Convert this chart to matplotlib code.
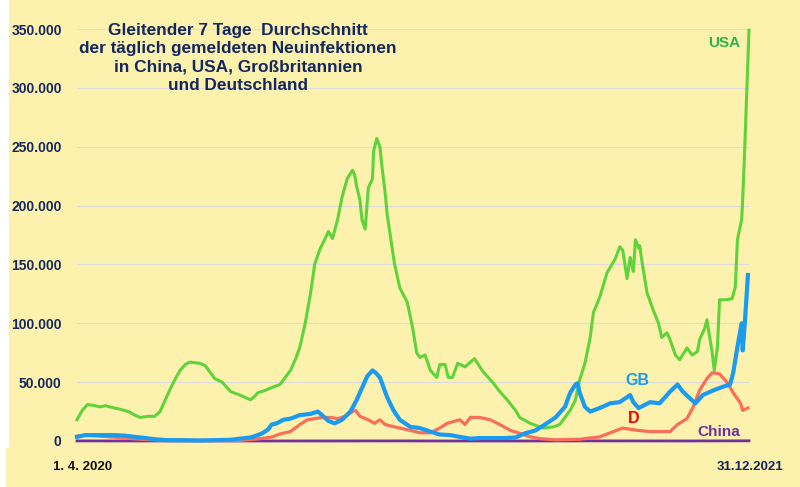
import matplotlib.pyplot as plt
from matplotlib.patches import Rectangle

# days since 1.4.2020, values in thousands (7-day average of daily new cases)
usa_days = [0, 5, 10, 17, 22, 27, 31, 41, 49, 55, 60, 68, 74, 79, 84, 88, 93, 98, 103, 107,
            117, 122, 126, 131, 138, 146, 155, 160, 165, 169, 172, 179, 184, 193, 203, 208,
            212, 217, 222, 226, 231, 236, 239, 243, 248, 252, 257, 262, 264, 266, 269, 271,
            274, 277, 281, 282, 285, 288, 290, 293, 295, 302, 307, 314, 319, 323, 326, 331,
            336, 342, 345, 350, 353, 357, 362, 369, 378, 386, 396, 402, 409, 417, 421, 431,
            443, 453, 459, 464, 469, 474, 478, 483, 488, 491, 497, 504, 512, 516, 519, 523,
            526, 529, 531, 534, 535, 538, 542, 548, 553, 556, 561, 564, 569, 573, 580, 585,
            590, 592, 597, 599, 601, 604, 606, 609, 611, 618, 623, 626, 628, 632, 633, 635,
            637, 639]
usa_vals = [18, 26, 31, 30, 29, 30, 29, 27, 25, 22, 20, 21, 21, 25, 35, 43, 52, 60, 65, 67,
            66, 64, 59, 53, 50, 42, 39, 37, 35, 38, 41, 43, 45, 48, 60, 70,
            80, 100, 125, 150, 163, 172, 178, 172, 189, 207, 223, 230, 226, 216, 205, 188,
            180, 215, 223, 246, 257, 250, 233, 211, 192, 150, 130, 118, 97, 75, 71, 73,
            60, 54, 65, 65, 54, 54, 66, 63, 70, 59, 49, 42, 35, 26, 20, 15,
            11, 12, 14, 20, 26, 35, 52, 66, 88, 109, 122, 143, 155, 165, 162, 138,
            156, 144, 171, 164, 166, 148, 126, 111, 100, 88, 92, 86, 73, 69, 79, 73,
            76, 86, 96, 103, 92, 75, 60, 80, 120, 120, 121, 131, 171, 188, 205, 250,
            300, 349]

gb_days = [0, 8, 22, 36, 46, 55, 65, 74, 84, 117, 146, 155, 165, 172, 177, 182, 185, 190,
           196, 203, 212, 222, 229, 233, 239, 245, 252, 260, 266, 271, 276, 281, 284, 288,
           295, 301, 307, 317, 326, 336, 345, 355, 364, 374, 383, 393, 407, 417, 426, 436,
           445, 455, 464, 469, 474, 476, 478, 483, 488, 497, 507, 516, 526, 529, 534, 545,
           554, 564, 571, 576, 588, 595, 605, 614, 621, 624, 628, 632, 633, 635, 638]
gb_vals = [3.5, 5, 5, 5, 4.5, 3.5, 2.5, 1.5, 0.8, 0.5, 1, 2, 3, 5, 7, 10, 14, 15,
           18, 19, 22, 23, 25, 22, 17, 15, 18, 25, 35, 45, 55, 60, 58, 54,
           37, 26, 18, 12, 11, 8, 5.5, 5, 3.5, 2, 2.5, 2.5, 2.5, 3, 6.5, 9,
           14, 20, 29, 41, 48, 49, 41, 29, 25, 28, 32, 33, 39, 33, 28, 33,
           32, 42, 48, 42, 32, 39, 43, 46, 48, 58, 80, 100, 77, 100, 141]

de_days = [0, 8, 17, 31, 46, 60, 79, 117, 155, 169, 179, 186, 193, 203, 212, 219, 226, 233,
           241, 248, 255, 262, 265, 269, 277, 283, 288, 293, 302, 317, 326, 336, 345, 352,
           364, 369, 374, 383, 393, 402, 412, 421, 431, 440, 455, 478, 497, 510, 519, 533,
           545, 564, 571, 580, 586, 592, 599, 604, 611, 618, 624, 631, 633, 638]
de_vals = [4, 5, 4.5, 3.5, 2.5, 1.5, 0.8, 0.4, 0.5, 1.5, 2.5, 3.5, 6, 8, 14, 18, 19, 20,
           20, 19, 21, 25, 26, 21, 18, 15, 18, 14, 12, 9, 7, 7, 11, 15,
           18, 14, 20, 20, 18, 14, 9, 6.5, 3.5, 2, 1, 1.5, 3.5, 8, 11, 9,
           8, 8, 14, 19, 29, 43, 53, 58, 57, 50, 41, 32, 26, 28]

china_days = [0, 30, 61, 91, 122, 153, 183, 214, 244, 275, 306, 334, 365, 395, 426, 456,
              487, 518, 548, 579, 609, 639]
china_vals = [0.08, 0.04, 0.03, 0.02, 0.03, 0.02, 0.02, 0.03, 0.02, 0.05, 0.08, 0.03, 0.02,
              0.02, 0.02, 0.03, 0.09, 0.06, 0.04, 0.03, 0.08, 0.15]

yticks = [0, 50, 100, 150, 200, 250, 300, 350]
ytick_labels = ['0', '50.000', '100.000', '150.000', '200.000', '250.000', '300.000', '350.000']

bg = '#FDF2AD'
navy = '#14275E'
plt.rcParams['font.family'] = ['Liberation Sans', 'DejaVu Sans']

fig = plt.figure(figsize=(8, 4.87), dpi=100, facecolor=bg)
# white strip on the left edge
fig.patches.append(Rectangle((0, 39 / 487), 9 / 800, 448 / 487, transform=fig.transFigure,
                             facecolor='white', edgecolor='none', zorder=0))
fig.patches.append(Rectangle((0, 0), 6 / 800, 39 / 487, transform=fig.transFigure,
                             facecolor='white', edgecolor='none', zorder=0))

ax = fig.add_axes([77 / 800, 46 / 487, 672 / 800, 412 / 487])
ax.set_facecolor(bg)
ax.set_xlim(0, 639)
ax.set_ylim(0, 350)

for y in yticks[1:]:
    ax.axhline(y, color='#DCDCDC', lw=0.9, zorder=1)

ax.plot(china_days, china_vals, color='#7030A0', lw=2.0, clip_on=False, zorder=3)
ax.plot(de_days, de_vals, color='#F96E5B', lw=2.3, clip_on=False, zorder=4)
ax.plot(usa_days, usa_vals, color='#5ED43A', lw=2.2, clip_on=False, zorder=5)
ax.plot(gb_days, gb_vals, color='#1B9BF0', lw=3.0, clip_on=False, zorder=6)

ax.set_yticks(yticks)
ax.set_yticklabels(ytick_labels, fontsize=10, fontweight='bold', color=navy)
ax.tick_params(axis='y', length=0, pad=11)
ax.set_xticks([])
for s in ax.spines.values():
    s.set_visible(False)

# series labels
ax.text(631, 338, 'USA', color='#2DB34A', fontsize=11, fontweight='bold', ha='right', va='center')
ax.text(533, 51, 'GB', color='#1E9BEA', fontsize=11.5, fontweight='bold', ha='center', va='center')
ax.text(529, 19.5, 'D', color='#F00000', fontsize=11.5, fontweight='bold', ha='center', va='center')
ax.text(610, 7.8, 'China', color='#7030A0', fontsize=11, fontweight='bold', ha='center', va='center')

fig.text(238 / 800, 1 - 58 / 487,
         'Gleitender 7 Tage  Durchschnitt\nder täglich gemeldeten Neuinfektionen\n'
         'in China, USA, Großbritannien\nund Deutschland',
         ha='center', va='center', fontsize=12.4, fontweight='bold', color=navy, linespacing=1.25)

fig.text(83 / 800, 1 - 467 / 487, '1. 4. 2020', ha='center', va='center',
         fontsize=9.5, fontweight='bold', color='#111111')
fig.text(750 / 800, 1 - 467 / 487, '31.12.2021', ha='center', va='center',
         fontsize=9.5, fontweight='bold', color=navy)

fig.savefig('out.png', dpi=100, facecolor=bg)
